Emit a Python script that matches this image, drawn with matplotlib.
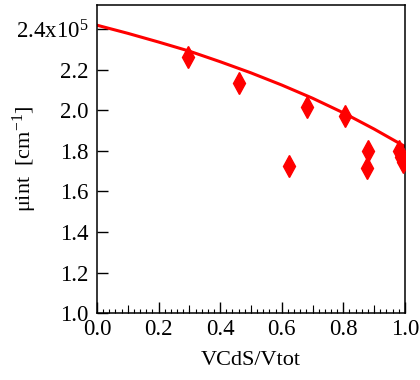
import numpy as np
import matplotlib.pyplot as plt
from matplotlib.ticker import MultipleLocator, FixedLocator, FixedFormatter

plt.rcParams['font.family'] = ['Liberation Serif', 'DejaVu Serif']
plt.rcParams['mathtext.fontset'] = 'custom'
plt.rcParams['mathtext.rm'] = 'Liberation Serif'
plt.rcParams['mathtext.it'] = 'Liberation Serif:italic'

# measured points
frac = [0.296, 0.461, 0.624, 0.681, 0.807, 0.878, 0.881, 0.982, 0.987, 0.995]
mu = [2.265, 2.137, 1.728, 2.016, 1.970, 1.715, 1.800, 1.802, 1.772, 1.743]

# fitted curve
fit_x = [0.0, 0.1, 0.2, 0.3, 0.4, 0.5, 0.6, 0.7, 0.8, 0.9, 1.0]
fit_y = [2.420, 2.380, 2.337, 2.292, 2.240, 2.185, 2.125, 2.060, 1.988, 1.908, 1.822]

yticks = [1.0, 1.2, 1.4, 1.6, 1.8, 2.0, 2.2, 2.4]
ylabels = ['1.0', '1.2', '1.4', '1.6', '1.8', '2.0', '2.2', '2.4x10$^5$']

fig = plt.figure(figsize=(4.2, 3.8), dpi=100)
ax = fig.add_axes([0.231, 0.176, 0.733, 0.811])

ax.plot(fit_x, fit_y, color='red', lw=2.2, zorder=2)
ax.plot(frac, mu, linestyle='none', marker='d', color='red', markersize=11, zorder=3)

ax.set_xlim(0, 1.0)
ax.set_ylim(1.0, 2.52)

ax.xaxis.set_major_locator(MultipleLocator(0.2))
ax.xaxis.set_minor_locator(MultipleLocator(0.02))
ax.yaxis.set_major_locator(FixedLocator(yticks))
ax.yaxis.set_major_formatter(FixedFormatter(ylabels))
ax.xaxis.set_major_formatter(plt.FuncFormatter(lambda v, p: f"{v:.1f}"))

ax.tick_params(axis='x', which='major', direction='in', length=8, width=1, pad=4, labelsize=16.5, top=False)
ax.tick_params(axis='x', which='minor', direction='in', length=3, width=0.8, top=False)
ax.tick_params(axis='y', which='major', direction='in', length=8, width=1, pad=6, labelsize=16.5, right=False)

# medium ticks at the odd tenths
sec = ax.secondary_xaxis('bottom')
sec.set_xticks([0.1, 0.3, 0.5, 0.7, 0.9])
sec.tick_params(direction='in', length=5.5, width=0.8, labelbottom=False)
sec.spines['bottom'].set_visible(False)

for s in ax.spines.values():
    s.set_linewidth(1.1)

ax.set_xlabel("VCdS/Vtot", fontsize=16, labelpad=8)
ax.set_ylabel("μint  [cm$^{-1}$]", fontsize=16)
ax.yaxis.set_label_coords(-0.19, 0.5)

plt.savefig("out.png", dpi=100)
